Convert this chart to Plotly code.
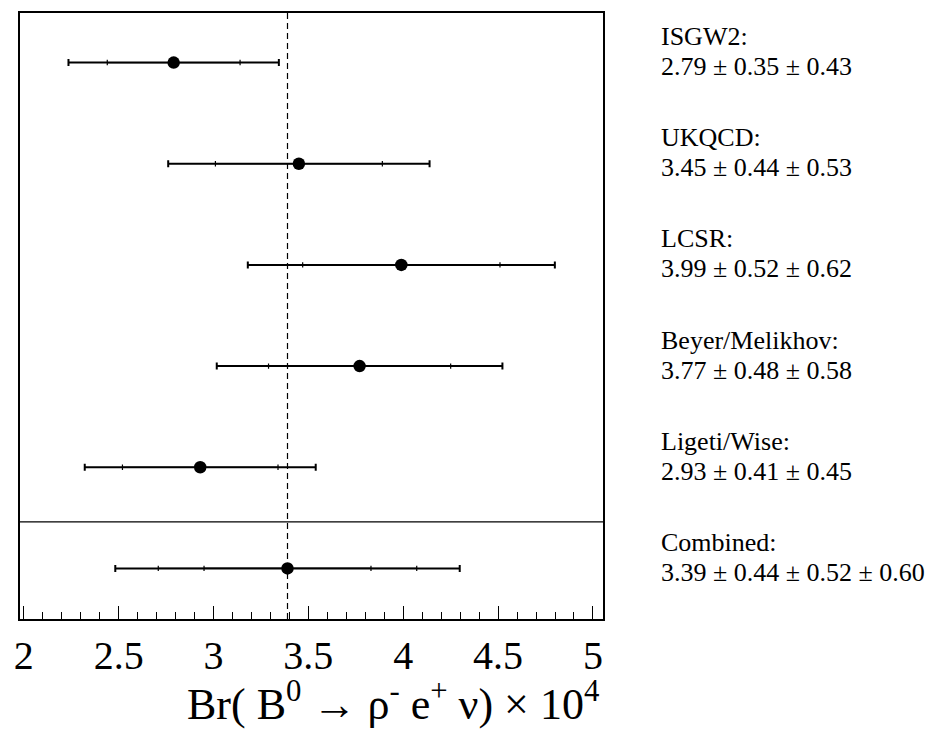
import math
import plotly.graph_objects as go

# ---- data ----
models = ["ISGW2", "UKQCD", "LCSR", "Beyer/Melikhov", "Ligeti/Wise", "Combined"]
central = [2.79, 3.45, 3.99, 3.77, 2.93, 3.39]
stat_err = [0.35, 0.44, 0.52, 0.48, 0.41, 0.44]
syst_err = [0.43, 0.53, 0.62, 0.58, 0.45, 0.52]
model_err = [None, None, None, None, None, 0.60]
rows = [5, 4, 3, 2, 1, 0]
tick_vals = [2, 2.5, 3, 3.5, 4, 4.5, 5]
tick_text = ["2", "2.5", "3", "3.5", "4", "4.5", "5"]

FONT = "Liberation Serif, Times New Roman, Times, DejaVu Serif, serif"
fig = go.Figure()

for name, c, s, sy, m, r in zip(models, central, stat_err, syst_err, model_err, rows):
    comps = [s, sy] + ([m] if m is not None else [])
    levels = []
    acc = 0.0
    for e in comps:
        acc += e * e
        levels.append(math.sqrt(acc))
    # outer (total) error bar with end caps
    fig.add_trace(go.Scatter(
        x=[c], y=[r], mode="markers",
        marker=dict(size=1, color="rgba(0,0,0,0)"),
        error_x=dict(type="data", array=[levels[-1]], symmetric=True,
                     color="black", thickness=2, width=3.5),
        showlegend=False, hoverinfo="skip"))
    # inner tick marks (statistical, and partial sums)
    for lv in levels[:-1]:
        fig.add_trace(go.Scatter(
            x=[c], y=[r], mode="markers",
            marker=dict(size=1, color="rgba(0,0,0,0)"),
            error_x=dict(type="data", array=[lv], symmetric=True,
                         color="black", thickness=1.2, width=2.7),
            showlegend=False, hoverinfo="skip"))

# central markers
fig.add_trace(go.Scatter(
    x=central, y=rows, mode="markers",
    marker=dict(symbol="circle", size=12.5, color="black"),
    showlegend=False, hovertext=models))

# dashed line at combined central value
fig.add_shape(type="line", xref="x", yref="paper",
              x0=central[-1], x1=central[-1], y0=0, y1=1,
              line=dict(color="black", width=1.2, dash="6px,4px"), layer="below")
# separator between individual results and combined
fig.add_shape(type="line", xref="paper", yref="y",
              x0=0, x1=1, y0=0.46, y1=0.46,
              line=dict(color="black", width=1.2))

# side labels
for name, c, s, sy, m, r in zip(models, central, stat_err, syst_err, model_err, rows):
    txt = f"{c:.2f} ± {s:.2f} ± {sy:.2f}"
    if m is not None:
        txt += f" ± {m:.2f}"
    fig.add_annotation(text=name + ":", xref="paper", yref="y", x=1.0955, y=r,
                       yshift=26, xanchor="left", yanchor="middle", showarrow=False,
                       font=dict(family=FONT, size=26, color="black"))
    fig.add_annotation(text=txt, xref="paper", yref="y", x=1.0955, y=r,
                       yshift=-4, xanchor="left", yanchor="middle", showarrow=False,
                       font=dict(family=FONT, size=26, color="black"))

# axis title
fig.add_annotation(
    text="Br( B<sup>0</sup> → ρ<sup>-</sup> e<sup>+</sup> ν) × 10<sup>4</sup>",
    xref="paper", yref="paper", x=0.9966, y=-0.136, xanchor="right", yanchor="middle",
    showarrow=False, font=dict(family=FONT, size=44, color="black"))

fig.update_layout(
    width=948, height=732,
    margin=dict(l=12, r=353, t=3, b=121),
    paper_bgcolor="white", plot_bgcolor="white",
    font=dict(family=FONT, color="black"),
    xaxis=dict(range=[1.980, 5.053], showgrid=False, zeroline=False,
               showline=True, linecolor="black", linewidth=2, mirror=True,
               tickvals=tick_vals, ticktext=tick_text,
               ticks="inside", ticklen=13, tickwidth=1.2, tickcolor="black",
               tickfont=dict(family=FONT, size=40, color="black"),
               minor=dict(dtick=0.1, tick0=2, ticks="inside", ticklen=7,
                          tickwidth=1.2, tickcolor="black", showgrid=False)),
    yaxis=dict(range=[-0.5, 5.49], showgrid=False, zeroline=False,
               showline=True, linecolor="black", linewidth=2, mirror=True,
               showticklabels=False, ticks=""),
)

fig.write_html("out.html")
